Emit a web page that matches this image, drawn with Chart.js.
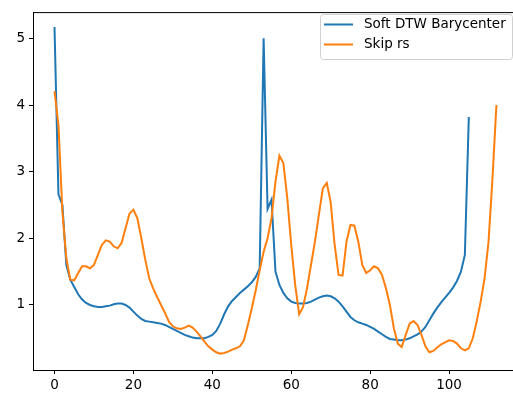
<!DOCTYPE html>
<html>
<head>
<meta charset="utf-8">
<script src="https://cdn.jsdelivr.net/npm/chart.js@4.4.1/dist/chart.umd.min.js"></script>
<style>
  html,body{margin:0;padding:0;background:#fff;}
  #wrap{position:relative;width:513px;height:394px;}
</style>
</head>
<body>
<div id="wrap"><canvas id="chart" width="513" height="394"></canvas></div>
<script>
'use strict';

// series values, one per integer step on the x axis
const softDtw = [
  5.17, 2.66, 2.5, 1.6, 1.38, 1.27, 1.16, 1.08, 1.03, 1.0,
  0.98, 0.97, 0.97, 0.98, 0.99, 1.01, 1.02, 1.02, 1.0, 0.96,
  0.9, 0.84, 0.79, 0.76, 0.75, 0.74, 0.73, 0.72, 0.7, 0.67,
  0.64, 0.61, 0.58, 0.55, 0.53, 0.51, 0.5, 0.5, 0.5, 0.52,
  0.55, 0.61, 0.72, 0.86, 0.98, 1.06, 1.12, 1.18, 1.23, 1.28,
  1.34, 1.42, 1.55, 5.0, 2.44, 2.58, 1.5, 1.3, 1.18, 1.1,
  1.05, 1.03, 1.02, 1.02, 1.03, 1.05, 1.08, 1.11, 1.13, 1.14,
  1.13, 1.1, 1.05, 0.98, 0.9, 0.82, 0.77, 0.74, 0.72, 0.7,
  0.67, 0.64, 0.6, 0.56, 0.52, 0.49, 0.48, 0.47, 0.47, 0.48,
  0.5, 0.53, 0.56, 0.6, 0.67, 0.77, 0.87, 0.96, 1.04, 1.11,
  1.18, 1.26, 1.36, 1.5, 1.75, 3.82
];
const skipRs = [
  4.21, 3.7, 2.4, 1.7, 1.38, 1.37, 1.48, 1.58, 1.58, 1.55,
  1.6, 1.75, 1.9, 1.97, 1.95, 1.88, 1.85, 1.93, 2.15, 2.37,
  2.43, 2.3, 2.0, 1.68, 1.4, 1.25, 1.12, 1.0, 0.88, 0.75,
  0.68, 0.65, 0.64, 0.66, 0.69, 0.66, 0.6, 0.53, 0.45, 0.38,
  0.33, 0.29, 0.27, 0.28, 0.3, 0.33, 0.35, 0.38, 0.47, 0.7,
  0.95, 1.22, 1.52, 1.8, 2.0, 2.3, 2.85, 3.24, 3.13, 2.6,
  1.9, 1.3, 0.86, 0.97, 1.25, 1.6, 1.95, 2.35, 2.75, 2.83,
  2.54, 1.9, 1.45, 1.44, 1.95, 2.2, 2.19, 1.95, 1.6, 1.48,
  1.52, 1.58, 1.55, 1.45, 1.25, 1.0, 0.65, 0.42, 0.37, 0.55,
  0.72, 0.76, 0.7, 0.55, 0.38, 0.29, 0.31, 0.36, 0.41, 0.44,
  0.47, 0.46, 0.42, 0.35, 0.32, 0.35, 0.5, 0.75, 1.05, 1.4,
  1.95, 2.9, 4.0
];
const seriesNames = ['Soft DTW Barycenter', 'Skip rs'];
const seriesColors = ['#1f77b4', '#ff7f0e'];
const xTicks = [0, 20, 40, 60, 80, 100];
const yTicks = [1, 2, 3, 4, 5];

const FONT = '"DejaVu Sans", sans-serif';
const toPoints = arr => arr.map((v, i) => ({x: i, y: v}));

// top spine + legend box, drawn like matplotlib does
const framePlugin = {
  id: 'frame',
  afterDraw(chart) {
    const {ctx, chartArea: a} = chart;
    ctx.save();
    ctx.strokeStyle = '#000';
    ctx.lineWidth = 1;
    ctx.beginPath();
    ctx.moveTo(a.left, a.top + 0.5);
    ctx.lineTo(a.right, a.top + 0.5);
    ctx.stroke();

    // legend
    const bx = 320.5, by = 14.5, bw = 192, bh = 45, r = 3;
    ctx.fillStyle = 'rgba(255,255,255,0.8)';
    ctx.strokeStyle = '#d0d0d0';
    ctx.beginPath();
    ctx.moveTo(bx + r, by);
    ctx.lineTo(bx + bw - r, by);
    ctx.arcTo(bx + bw, by, bx + bw, by + r, r);
    ctx.lineTo(bx + bw, by + bh - r);
    ctx.arcTo(bx + bw, by + bh, bx + bw - r, by + bh, r);
    ctx.lineTo(bx + r, by + bh);
    ctx.arcTo(bx, by + bh, bx, by + bh - r, r);
    ctx.lineTo(bx, by + r);
    ctx.arcTo(bx, by, bx + r, by, r);
    ctx.closePath();
    ctx.fill();
    ctx.stroke();

    ctx.font = '13.5px ' + FONT;
    ctx.textBaseline = 'middle';
    ctx.textAlign = 'left';
    seriesNames.forEach((name, i) => {
      const y = 24.5 + i * 20;
      ctx.strokeStyle = seriesColors[i];
      ctx.lineWidth = 2;
      ctx.beginPath();
      ctx.moveTo(324, y);
      ctx.lineTo(353, y);
      ctx.stroke();
      ctx.fillStyle = '#000';
      ctx.fillText(name, 364, y);
    });
    ctx.restore();
  }
};

new Chart(document.getElementById('chart'), {
  type: 'line',
  data: {
    datasets: [
      {label: seriesNames[0], data: toPoints(softDtw), borderColor: seriesColors[0], order: 2},
      {label: seriesNames[1], data: toPoints(skipRs), borderColor: seriesColors[1], order: 1}
    ]
  },
  options: {
    responsive: false,
    animation: false,
    events: [],
    layout: {padding: {top: 7, left: 0, right: 0, bottom: 0}},
    elements: {
      line: {borderWidth: 2, tension: 0, fill: false},
      point: {radius: 0}
    },
    plugins: {legend: {display: false}, tooltip: {enabled: false}},
    scales: {
      x: {
        type: 'linear',
        min: -5.45,
        max: 116.2,
        afterBuildTicks: s => { s.ticks = xTicks.map(v => ({value: v})); },
        afterFit: s => { s.height = 24; },
        grid: {display: true, drawOnChartArea: false, drawTicks: true, tickLength: 4, color: '#000'},
        border: {display: true, color: '#000', width: 1},
        ticks: {color: '#000', font: {family: FONT, size: 13.5}, padding: 3, maxRotation: 0}
      },
      y: {
        type: 'linear',
        min: 0.024,
        max: 5.394,
        afterBuildTicks: s => { s.ticks = yTicks.map(v => ({value: v})); },
        afterFit: s => { s.width = 33; },
        grid: {display: true, drawOnChartArea: false, drawTicks: true, tickLength: 4, color: '#000'},
        border: {display: true, color: '#000', width: 1},
        ticks: {color: '#000', font: {family: FONT, size: 13.5}, padding: 4}
      }
    }
  },
  plugins: [framePlugin]
});
</script>
</body>
</html>
